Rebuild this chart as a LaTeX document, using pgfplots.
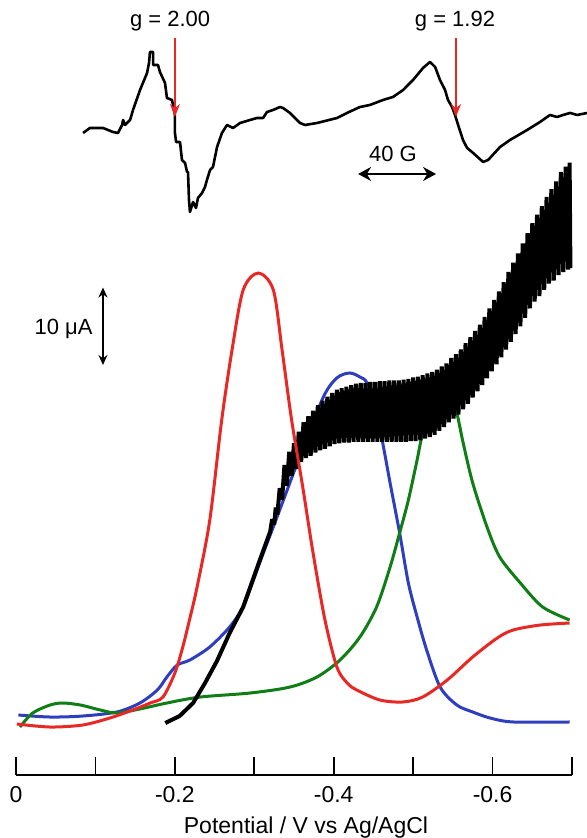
\documentclass[border=0pt]{standalone}
\usepackage{fontspec}
\setmainfont{Liberation Sans}
\usepackage{pgfplots}
\pgfplotsset{compat=1.18}
\usetikzlibrary{arrows.meta}

\definecolor{cvred}{RGB}{232,40,36}
\definecolor{cvblue}{RGB}{45,62,190}
\definecolor{cvgreen}{RGB}{16,125,22}

\begin{document}
\fontsize{11}{13}\selectfont
\begin{tikzpicture}
\path[use as bounding box] (-8pt,-31.5pt) rectangle (285.5pt,387.5pt);

% voltammograms: x in V vs Ag/AgCl, y in uA (10 uA = scale bar)
\begin{axis}[
  at={(0,0)}, anchor=south west,
  scale only axis, width=278pt, height=387.5pt,
  xmin=-0.7, xmax=0, ymin=0, ymax=100,
  x dir=reverse,
  axis x line=bottom, axis y line=none,
  x axis line style={-, line width=0.9pt},
  xtick={0,-0.1,-0.2,-0.3,-0.4,-0.5,-0.6,-0.7},
  xticklabels={0,,-0.2,,-0.4,,-0.6,},
  tick align=inside, major tick length=9pt,
  tick style={line width=0.9pt, black},
  xticklabel style={font=\fontsize{11.5}{13}\selectfont, yshift=-2pt},
  xlabel={Potential / V vs Ag/AgCl},
  xlabel style={font=\fontsize{11.5}{13}\selectfont, yshift=0.5pt, xshift=6pt},
  clip=false,
]
% blue
\addplot[cvblue, line width=1.5pt, smooth] coordinates {
(-0.003,7.74) (-0.043,7.48) (-0.084,7.61) (-0.127,8.13) (-0.156,9.29)
(-0.178,10.97) (-0.190,12.65) (-0.203,14.19) (-0.219,14.84) (-0.244,16.52)
(-0.269,19.10) (-0.286,21.68) (-0.298,24.90) (-0.310,28.26) (-0.332,34.19)
(-0.358,41.29) (-0.387,48.77) (-0.404,51.23) (-0.420,51.87) (-0.433,51.35)
(-0.442,50.58) (-0.453,47.10) (-0.461,43.23) (-0.471,37.68) (-0.483,31.23)
(-0.494,24.77) (-0.505,20.39) (-0.517,16.13) (-0.534,11.35) (-0.555,9.03)
(-0.575,8.13) (-0.597,7.35) (-0.626,6.84) (-0.697,6.84)
};
% green
\addplot[cvgreen, line width=1.5pt, smooth] coordinates {
(-0.005,6.19) (-0.021,8.00) (-0.043,9.03) (-0.059,9.29) (-0.081,9.03)
(-0.106,8.39) (-0.127,8.00) (-0.156,8.52) (-0.190,9.29) (-0.232,10.06)
(-0.295,10.58) (-0.345,11.35) (-0.379,12.65) (-0.408,14.84) (-0.433,17.81)
(-0.454,21.68) (-0.471,26.84) (-0.483,31.23) (-0.494,35.48) (-0.505,40.65)
(-0.511,43.61) (-0.524,47.74) (-0.539,48.65) (-0.549,48.00) (-0.555,46.71)
(-0.563,42.84) (-0.575,37.68) (-0.593,32.00) (-0.609,28.13) (-0.635,24.77)
(-0.663,21.68) (-0.697,20.00)
};
% black (oscillating current)
\addplot[black, line width=2pt, line join=bevel, sharp plot] coordinates {
(-0.188,6.71) (-0.206,7.61) (-0.223,9.29) (-0.238,11.87) (-0.253,14.71)
(-0.269,18.32) (-0.286,21.68) (-0.307,27.74) (-0.320,31.40)
(-0.3225,33.0) (-0.325,32.3) (-0.327,34.5)
(-0.329,33.6) (-0.332,37.0) (-0.335,35.5) (-0.338,40.0) (-0.341,37.3)
(-0.344,41.7) (-0.347,38.6) (-0.350,42.8) (-0.353,39.5) (-0.356,44.3)
(-0.359,40.4) (-0.362,45.5) (-0.365,40.9) (-0.368,46.3) (-0.371,41.2)
(-0.374,47.0) (-0.377,41.6) (-0.380,47.7) (-0.383,41.9) (-0.386,48.3)
(-0.389,42.1) (-0.392,48.8) (-0.395,42.4) (-0.398,49.3) (-0.401,42.7)
(-0.404,49.7) (-0.407,42.8) (-0.410,49.9) (-0.413,42.9) (-0.416,50.1)
(-0.419,42.9) (-0.422,50.3) (-0.425,43.0) (-0.428,50.5) (-0.431,43.0)
(-0.434,50.6) (-0.437,43.0) (-0.440,50.6) (-0.443,43.0) (-0.446,50.7)
(-0.449,43.0) (-0.452,50.7) (-0.455,43.0) (-0.458,50.8) (-0.461,43.0)
(-0.464,50.8) (-0.467,43.0) (-0.470,50.9) (-0.473,43.0) (-0.476,50.9)
(-0.479,43.0) (-0.482,50.9) (-0.485,43.0) (-0.488,51.0) (-0.491,43.0)
(-0.494,51.1) (-0.497,43.1) (-0.500,51.3) (-0.503,43.1) (-0.506,51.4)
(-0.509,43.2) (-0.512,51.6) (-0.515,43.4) (-0.518,51.8) (-0.521,43.6)
(-0.524,52.0) (-0.527,43.9) (-0.530,52.3) (-0.533,44.4) (-0.536,52.7)
(-0.539,44.9) (-0.542,53.1) (-0.545,45.5) (-0.548,53.8) (-0.551,46.0)
(-0.554,54.3) (-0.557,46.5) (-0.560,54.9) (-0.563,47.2) (-0.566,55.7)
(-0.569,47.9) (-0.572,56.5) (-0.575,48.7) (-0.578,57.3) (-0.581,49.5)
(-0.584,58.1) (-0.587,50.3) (-0.590,59.1) (-0.593,51.2) (-0.596,60.2)
(-0.599,52.1) (-0.602,61.3) (-0.605,53.0) (-0.608,62.4) (-0.611,53.9)
(-0.614,63.6) (-0.617,54.9) (-0.620,64.9) (-0.623,55.9) (-0.626,66.1)
(-0.629,56.9) (-0.632,67.3) (-0.635,57.9) (-0.638,68.6) (-0.641,59.0)
(-0.644,69.9) (-0.647,60.2) (-0.650,71.2) (-0.653,61.1) (-0.656,72.3)
(-0.659,61.8) (-0.662,73.4) (-0.665,62.6) (-0.668,74.6) (-0.671,63.4)
(-0.674,75.6) (-0.677,63.8) (-0.680,76.6) (-0.683,64.5) (-0.686,77.8)
(-0.689,64.9) (-0.692,78.5) (-0.695,65.2) (-0.697,79.0) (-0.698,65.4)
};
% red
\addplot[cvred, line width=1.5pt, smooth] coordinates {
(-0.001,6.58) (-0.043,6.19) (-0.084,6.45) (-0.118,7.35) (-0.147,8.39)
(-0.169,9.29) (-0.185,10.06) (-0.200,13.16) (-0.210,16.52) (-0.219,20.26)
(-0.228,24.26) (-0.244,32.90) (-0.259,45.81) (-0.272,54.84) (-0.286,62.58)
(-0.305,64.77) (-0.324,62.58) (-0.335,54.84) (-0.347,45.81) (-0.361,37.16)
(-0.374,28.65) (-0.389,20.00) (-0.404,13.94) (-0.417,11.87) (-0.429,10.97)
(-0.458,9.68) (-0.487,9.42) (-0.512,10.06) (-0.543,12.26) (-0.575,15.23)
(-0.606,17.68) (-0.626,18.71) (-0.660,19.35) (-0.697,19.61)
};
% 10 uA scale bar
\draw[line width=0.9pt, {Stealth[length=5pt,width=4.5pt]}-{Stealth[length=5pt,width=4.5pt]}]
  (-0.1095,52.9) -- (-0.1095,62.9);
\node[anchor=base east, inner sep=1pt] at (-0.0995,56.8) {10 μA};
\end{axis}

% EPR spectrum: x = field offset in G, y = derivative signal (a.u.)
\begin{axis}[
  at={(0,0)}, anchor=south west,
  scale only axis, width=278pt, height=387.5pt,
  xmin=0, xmax=285.1, ymin=-645, ymax=130,
  hide axis, clip=false,
]
\addplot[black, line width=1.3pt, sharp plot, line join=round] coordinates {
(34.4,-3) (37.9,2) (44.6,2) (49.7,-2) (52.3,-3) (54.4,5) (54.9,10) (55.9,5)
(58.5,10) (60.0,20) (63.6,40) (67.2,57) (68.2,67) (68.7,78) (70.3,78)
(70.3,65) (72.8,65) (73.8,58) (76.4,47) (77.4,32) (80.0,30) (81.5,15)
(81.5,-3) (82.1,-12) (84.1,-12) (85.1,-30) (86.7,-33) (87.7,-42) (88.2,-42)
(88.7,-70) (89.2,-82) (90.8,-72) (92.3,-78) (93.3,-68) (95.4,-63) (96.9,-57)
(97.9,-50) (99.5,-40) (101.0,-37) (103.1,-17) (105.6,-3) (108.2,5) (111.3,2)
(114.9,7) (120.0,10) (123.6,12) (126.7,12) (128.7,18) (131.8,20) (135.4,23)
(136.9,22) (140.5,17) (145.6,7) (148.2,5) (154.4,7) (164.6,12) (169.7,17)
(176.4,23) (181.5,25) (188.2,30) (193.3,33) (198.5,40) (203.6,50) (208.7,62)
(212.3,68) (214.9,63) (217.4,50) (220.0,40) (221.5,30) (223.6,23) (225.1,15)
(226.7,5) (229.2,-10) (231.3,-18) (234.4,-23) (239.5,-32) (242.1,-30)
(248.2,-17) (253.3,-10) (262.1,0) (268.7,8) (273.8,15) (277.4,13) (280.5,15)
(284.1,17) (287.7,15) (292.8,17)
};
\draw[cvred, line width=0.9pt, -{Stealth[length=6.5pt,width=5pt]}] (81.5,92) -- (81.5,13);
\draw[cvred, line width=0.9pt, -{Stealth[length=6.5pt,width=5pt]}] (225.6,92) -- (225.6,13);
\node[anchor=base] at (79,103) {g = 2.00};
\node[anchor=base] at (225.1,103) {g = 1.92};
\draw[line width=1pt, {Stealth[length=6.5pt,width=7pt]}-{Stealth[length=6.5pt,width=7pt]}]
  (175.4,-44) -- (215.4,-44);
\node[anchor=base] at (193.3,-32) {40 G};
\end{axis}
\end{tikzpicture}
\end{document}
